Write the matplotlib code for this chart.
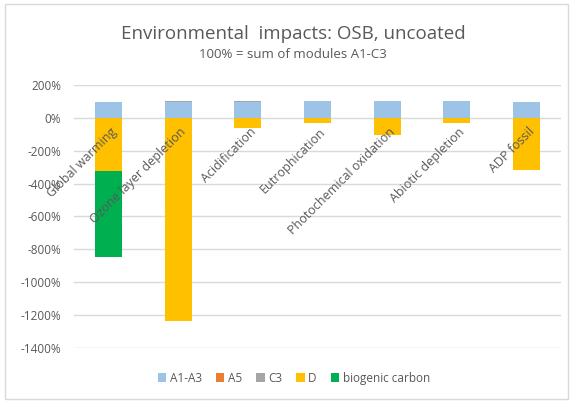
import numpy as np
import matplotlib.pyplot as plt
from matplotlib.patches import Rectangle

# Daten (Prozent, 100% = Summe A1-C3)
kategorien = ["Global warming", "Ozone layer depletion", "Acidification",
              "Eutrophication", "Photochemical oxidation", "Abiotic depletion",
              "ADP fossil"]
a1_a3 = [95, 97, 97, 100, 100, 100, 95]
a5 = [1, 1, 1, 1, 1, 1, 1]
c3 = [3, 2, 2, 2, 2, 2, 2]
d = [-326, -1238, -61, -30, -103, -30, -320]
biogen = [-523, 0, 0, 0, 0, 0, 0]

farben = {"A1-A3": "#9DC3E6", "A5": "#ED7D31", "C3": "#A5A5A5",
          "D": "#FFC000", "biogenic carbon": "#00B050"}
textfarbe = "#595959"

plt.rcParams["font.family"] = ["Open Sans", "DejaVu Sans"]

fig = plt.figure(figsize=(5.72, 4.01), dpi=100)
ax = fig.add_axes([0.129, 0.133, 0.852, 0.655])

x = np.arange(len(kategorien))
b = 0.39
ax.bar(x, a1_a3, b, color=farben["A1-A3"], label="A1-A3", zorder=3)
ax.bar(x, a5, b, bottom=a1_a3, color=farben["A5"], label="A5", zorder=3)
ax.bar(x, c3, b, bottom=np.add(a1_a3, a5), color=farben["C3"], label="C3", zorder=3)
ax.bar(x, d, b, color=farben["D"], label="D", zorder=3)
ax.bar(x, biogen, b, bottom=d, color=farben["biogenic carbon"],
       label="biogenic carbon", zorder=3)

ax.set_ylim(-1400, 200)
ax.set_xlim(-0.5, len(kategorien) - 0.5)
ax.set_yticks(np.arange(-1400, 201, 200))
ax.set_yticklabels([f"{v}%" for v in range(-1400, 201, 200)])
ax.tick_params(axis="y", length=0, labelsize=8.5, colors=textfarbe, pad=9)
ax.set_xticks([])
ax.grid(axis="y", color="#D9D9D9", linewidth=1, zorder=0)
for s in ax.spines.values():
    s.set_visible(False)

# Kategorienamen schräg an der Null-Linie
for i, name in enumerate(kategorien):
    ax.text(i + 0.02, -45, name, rotation=45, ha="right", va="top",
            rotation_mode="anchor", fontsize=9, color=textfarbe, zorder=4)

fig.text(0.512, 0.915, "Environmental  impacts: OSB, uncoated",
         ha="center", va="center", fontsize=13.5, color=textfarbe)
fig.text(0.512, 0.865, "100% = sum of modules A1-C3",
         ha="center", va="center", fontsize=9.5, color=textfarbe)

leg = fig.legend(loc="center", bbox_to_anchor=(0.514, 0.057), ncol=5,
                 frameon=False, fontsize=8.5, handlelength=0.7,
                 handleheight=0.7, handletextpad=0.3, columnspacing=1.2)
for t in leg.get_texts():
    t.set_color(textfarbe)

# Rahmen
fig.patches.append(Rectangle((0.008, 0.005), 0.985, 0.985, transform=fig.transFigure,
                             fill=False, edgecolor="#D9D9D9", linewidth=1))

fig.savefig("out.png", dpi=100)
